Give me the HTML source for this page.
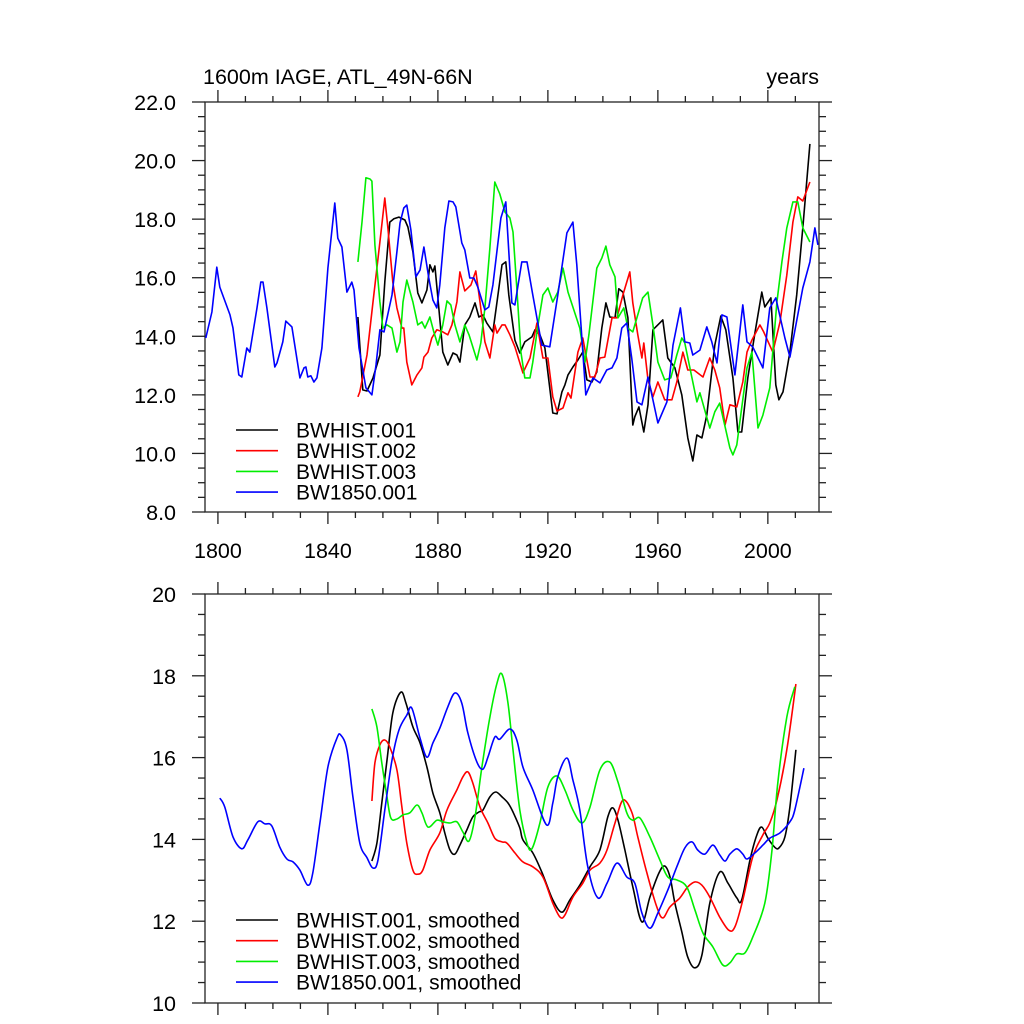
<!DOCTYPE html>
<html><head><meta charset="utf-8"><style>
html,body{margin:0;padding:0;background:#fff;}
svg{display:block;font-family:"Liberation Sans",sans-serif;}
</style></head><body>
<svg id="chart" width="1024" height="1024" viewBox="0 0 1024 1024">
<text x="203" y="84" font-size="21.5">1600m IAGE, ATL_49N-66N</text>
<text x="819" y="84" font-size="21.5" text-anchor="end">years</text>
</svg>
<script>
const xTicksMajor=[1800,1840,1880,1920,1960,2000];
const topYTicks=[8,10,12,14,16,18,20,22];
const botYTicks=[10,12,14,16,18,20];
const topLegend=["BWHIST.001","BWHIST.002","BWHIST.003","BW1850.001"];
const botLegend=["BWHIST.001, smoothed","BWHIST.002, smoothed","BWHIST.003, smoothed","BW1850.001, smoothed"];
const colors=["#000000","#ff0000","#00ee00","#0000ff"];

const t1Y=[1850.9,1852.7,1854.2,1856.4,1858.9,1860.7,1862.5,1864.0,1865.8,1868.0,1869.1,1870.9,1872.7,1874.2,1876.0,1877.1,1878.2,1878.9,1880.0,1881.8,1883.6,1885.5,1886.9,1888.0,1889.8,1891.6,1893.5,1894.9,1896.4,1897.8,1900.0,1901.5,1903.3,1904.7,1905.8,1908.0,1909.8,1911.6,1914.2,1915.3,1917.1,1918.9,1921.8,1923.3,1925.1,1926.2,1927.3,1929.1,1930.9,1932.7,1934.2,1936.0,1937.8,1939.6,1941.1,1942.5,1944.4,1945.8,1947.3,1949.1,1950.9,1951.6,1953.1,1954.9,1956.4,1958.2,1961.8,1963.6,1966.2,1968.7,1970.9,1972.7,1974.2,1976.0,1977.8,1980.7,1982.9,1984.7,1987.3,1989.1,1990.5,1992.7,1995.3,1997.8,1998.9,2001.1,2002.9,2004.0,2005.5,2008.0,2010.5,2012.7,2015.3];
const t1V=[14.66,12.17,12.13,12.58,13.36,15.85,17.90,18.01,18.07,17.97,17.73,16.88,15.48,15.14,15.58,16.44,16.20,16.40,15.31,13.46,13.02,13.43,13.36,13.12,14.39,14.66,15.14,14.66,14.73,14.45,14.15,15.17,16.44,16.54,15.41,13.87,13.43,13.81,13.98,14.22,14.05,13.60,11.38,11.35,12.10,12.34,12.68,12.95,13.19,13.46,12.51,12.44,12.78,14.28,15.14,14.66,14.63,15.62,15.51,14.63,10.97,11.25,11.59,10.73,11.66,14.22,14.56,13.26,12.92,12.00,10.53,9.74,10.63,10.53,11.31,13.70,14.69,14.22,12.58,10.73,10.73,12.58,14.11,15.51,15.00,15.31,12.34,11.83,12.10,13.46,15.41,17.70,20.57];
const t2Y=[1850.9,1851.6,1854.2,1856.4,1858.9,1860.7,1861.8,1863.6,1865.1,1866.9,1867.6,1868.7,1870.5,1872.4,1874.2,1874.9,1876.4,1877.8,1879.6,1881.8,1883.6,1885.1,1886.9,1888.0,1889.8,1892.0,1893.8,1895.3,1897.1,1898.9,1900.7,1901.5,1903.3,1904.4,1906.2,1908.0,1910.9,1913.5,1916.0,1918.2,1920.0,1921.8,1923.3,1925.5,1927.3,1928.4,1930.9,1932.7,1935.3,1937.1,1938.9,1940.7,1943.3,1945.1,1947.3,1949.8,1950.9,1952.7,1954.2,1954.9,1956.4,1958.2,1960.0,1962.5,1965.1,1966.9,1969.1,1970.9,1973.1,1976.4,1978.9,1980.7,1982.5,1984.4,1986.2,1988.7,1990.9,1992.4,1994.2,1997.1,1998.5,2001.8,2004.4,2006.9,2009.1,2010.9,2012.7,2015.3];
const t2V=[11.93,12.10,13.36,15.17,17.22,18.72,17.70,15.85,14.97,14.28,14.28,13.12,12.34,12.68,12.92,13.29,13.46,13.94,14.22,14.15,14.05,14.39,15.17,16.20,15.55,15.75,16.23,15.17,13.81,13.26,14.39,14.11,14.39,14.39,14.05,13.64,12.75,13.26,14.45,13.26,13.26,11.93,11.45,11.55,12.07,11.89,13.46,13.94,12.61,12.61,13.26,13.29,14.63,14.63,15.41,16.20,15.14,14.05,13.26,13.77,12.51,11.93,12.44,11.83,11.83,12.44,13.46,12.85,12.85,12.61,13.26,12.85,12.24,10.97,11.66,11.59,12.44,13.46,13.87,14.39,14.15,13.46,14.49,16.09,17.90,18.76,18.62,19.27];
const t3Y=[1850.9,1852.4,1853.8,1855.3,1856.0,1857.1,1858.9,1860.0,1861.5,1863.3,1865.1,1866.2,1867.3,1868.7,1870.9,1872.7,1874.2,1875.3,1877.1,1878.5,1880.0,1881.8,1883.3,1884.7,1886.2,1888.0,1889.8,1891.3,1894.2,1895.6,1897.1,1898.9,1900.7,1902.5,1904.4,1906.2,1907.3,1908.7,1910.2,1911.6,1913.5,1914.5,1916.4,1918.2,1920.0,1921.8,1923.6,1925.5,1927.3,1929.8,1931.6,1933.5,1934.9,1937.8,1939.6,1941.1,1942.5,1944.4,1945.5,1947.6,1949.1,1950.9,1954.5,1956.4,1958.2,1960.0,1962.5,1964.7,1966.9,1968.7,1969.8,1974.2,1975.3,1978.9,1980.7,1982.5,1986.2,1987.3,1988.7,1992.4,1994.2,1996.4,1998.2,2000.7,2003.3,2005.1,2006.9,2009.1,2010.9,2012.7,2015.3];
const t3V=[16.54,17.90,19.41,19.37,19.30,17.12,15.17,14.28,14.39,14.28,13.46,13.81,15.17,15.92,15.17,14.39,14.49,14.28,14.66,14.15,13.70,14.39,15.21,15.07,14.39,13.81,14.39,14.05,13.19,13.77,14.97,17.02,19.27,18.86,18.24,18.04,17.56,15.65,13.46,12.58,12.58,13.12,14.39,15.41,15.65,15.17,15.51,16.33,15.51,14.80,14.28,13.12,14.05,16.33,16.67,17.08,16.44,16.03,14.63,14.97,14.28,14.15,15.31,15.51,14.39,13.12,12.51,12.58,13.36,13.94,13.77,11.76,12.07,10.87,11.42,11.72,10.19,9.95,10.29,12.92,13.46,10.87,11.31,12.24,15.17,16.54,17.70,18.59,18.59,17.70,17.22];
const t4Y=[1795.6,1797.8,1799.6,1800.7,1804.4,1805.5,1807.6,1808.7,1810.5,1811.6,1814.2,1815.6,1816.4,1817.8,1820.7,1821.5,1823.6,1824.7,1826.9,1829.8,1831.3,1832.0,1832.7,1833.8,1834.9,1836.0,1837.8,1840.0,1842.5,1843.6,1845.1,1846.9,1848.7,1849.5,1851.3,1853.8,1856.0,1857.5,1858.9,1860.4,1863.3,1865.1,1866.2,1867.6,1868.7,1870.2,1872.0,1873.5,1874.9,1876.7,1878.2,1879.6,1880.7,1882.5,1884.0,1885.5,1886.5,1888.7,1889.8,1891.6,1893.1,1894.5,1897.1,1898.5,1900.0,1902.9,1904.7,1906.9,1908.0,1910.5,1912.4,1914.5,1917.8,1920.7,1923.6,1926.9,1929.1,1930.5,1933.8,1936.4,1938.9,1941.4,1943.3,1945.1,1946.9,1948.7,1950.5,1952.4,1954.2,1956.4,1960.0,1963.3,1965.5,1968.2,1969.8,1971.6,1972.7,1975.3,1977.8,1979.6,1981.5,1983.3,1985.1,1988.0,1990.9,1992.4,1994.5,1998.2,2000.7,2002.9,2006.2,2008.0,2012.7,2015.3,2017.1,2018.2];
const t4V=[13.94,14.83,16.36,15.68,14.73,14.28,12.68,12.61,13.60,13.46,14.97,15.85,15.85,14.97,12.95,13.09,13.81,14.52,14.32,12.58,12.92,12.95,12.61,12.65,12.44,12.58,13.60,16.33,18.55,17.35,17.05,15.51,15.85,15.58,13.60,12.24,12.00,13.02,14.22,14.15,15.41,16.88,17.87,18.38,18.48,17.63,16.03,16.26,17.05,15.99,15.24,14.97,15.75,17.70,18.62,18.59,18.42,17.19,16.95,15.99,15.99,15.68,14.90,15.00,15.75,18.04,18.59,15.14,15.07,16.54,16.54,15.41,13.70,13.64,15.41,17.53,17.90,16.44,12.00,12.58,12.41,12.85,12.92,13.26,14.28,14.45,13.26,11.76,11.66,12.61,11.04,11.76,13.70,14.97,13.81,13.77,13.36,13.53,14.32,13.81,13.09,14.73,14.66,12.68,15.07,13.81,13.64,12.92,14.97,15.31,13.94,13.29,15.65,16.54,17.70,17.12];

const s1Y=[1856.0,1857.8,1859.6,1861.5,1863.6,1866.5,1868.4,1870.9,1873.5,1876.0,1878.2,1880.7,1882.5,1884.4,1886.2,1888.0,1890.5,1892.7,1894.9,1896.4,1898.9,1901.1,1903.3,1905.5,1907.3,1909.8,1910.9,1914.5,1917.8,1921.8,1925.1,1928.0,1931.6,1935.3,1938.9,1941.8,1943.6,1945.5,1948.0,1950.9,1954.2,1957.1,1960.4,1962.5,1964.4,1966.2,1968.7,1970.9,1973.5,1976.0,1978.9,1982.5,1985.5,1988.7,1990.5,1993.5,1996.0,1997.8,2000.0,2002.5,2004.0,2006.2,2008.0,2010.2];
const s1V=[13.47,13.91,14.89,15.94,17.09,17.60,17.33,16.75,16.36,15.77,15.13,14.65,14.16,13.74,13.64,13.86,14.23,14.55,14.67,14.72,15.04,15.16,15.04,14.89,14.67,14.28,13.99,13.67,13.20,12.52,12.22,12.52,12.88,13.33,13.74,14.55,14.77,14.47,13.74,12.84,11.98,12.59,13.18,13.35,13.08,12.44,11.74,11.12,10.86,11.17,12.44,13.20,12.93,12.57,12.52,13.50,14.11,14.30,14.03,13.81,13.79,14.06,14.79,16.19];
const s2Y=[1856.0,1857.1,1858.9,1860.7,1862.5,1865.1,1866.9,1868.7,1870.9,1872.7,1874.5,1877.1,1880.7,1883.3,1886.9,1889.1,1890.9,1892.7,1895.3,1898.2,1900.7,1903.3,1905.1,1908.0,1910.9,1914.5,1918.2,1921.8,1924.4,1926.2,1929.1,1932.7,1935.3,1938.9,1941.5,1944.4,1947.3,1950.5,1952.7,1956.0,1959.6,1961.8,1964.4,1968.0,1970.9,1973.5,1976.0,1978.9,1982.5,1985.8,1988.0,1990.9,1994.5,1998.2,2000.7,2003.3,2006.9,2010.2];
const s2V=[14.94,15.87,16.31,16.43,16.26,15.70,14.79,13.91,13.25,13.15,13.25,13.74,14.16,14.72,15.21,15.53,15.65,15.38,14.79,14.40,14.03,13.94,13.91,13.67,13.45,13.33,13.08,12.44,12.10,12.15,12.59,12.93,13.25,13.42,13.74,14.40,14.96,14.67,14.06,13.18,12.35,12.08,12.35,12.57,12.84,12.96,12.88,12.59,12.10,11.78,11.86,12.52,13.57,14.11,14.40,14.96,16.19,17.80];
const s3Y=[1856.0,1857.8,1859.6,1861.5,1862.9,1865.1,1867.3,1869.8,1872.4,1874.2,1876.4,1879.6,1881.8,1884.4,1886.9,1889.1,1891.3,1893.5,1896.0,1898.9,1901.5,1903.3,1905.5,1907.3,1909.8,1912.4,1914.2,1917.1,1920.0,1923.3,1926.2,1929.1,1932.4,1935.3,1938.9,1942.5,1945.5,1948.7,1950.9,1953.5,1957.1,1960.7,1963.6,1966.9,1970.5,1973.5,1976.4,1980.0,1983.6,1986.2,1988.7,1991.6,1994.5,1998.9,2001.5,2003.6,2006.9,2009.8];
const s3V=[17.19,16.75,15.87,15.04,14.52,14.50,14.60,14.65,14.84,14.65,14.30,14.47,14.43,14.40,14.43,14.18,13.96,14.55,15.77,16.99,17.82,18.04,17.33,16.19,14.72,13.91,13.77,14.40,15.28,15.55,15.21,14.72,14.40,14.79,15.70,15.89,15.40,14.65,14.47,14.52,14.06,13.50,13.08,13.01,12.84,12.27,11.71,11.37,10.93,10.98,11.20,11.22,11.61,12.44,13.74,15.38,16.99,17.73];
const s4Y=[1800.7,1802.5,1805.5,1808.7,1810.9,1814.5,1817.1,1819.6,1822.5,1825.1,1827.3,1829.8,1832.7,1834.5,1837.1,1840.0,1843.3,1844.7,1846.9,1849.1,1851.6,1854.2,1856.4,1858.2,1860.7,1863.3,1865.8,1868.7,1870.5,1873.5,1876.0,1878.2,1880.7,1883.6,1886.2,1888.7,1890.9,1894.2,1896.4,1898.2,1900.7,1902.5,1906.2,1908.7,1910.9,1914.5,1919.6,1921.8,1923.6,1926.9,1929.1,1931.6,1934.5,1938.2,1941.5,1945.1,1948.7,1951.6,1954.2,1957.1,1960.0,1963.6,1966.9,1969.8,1972.4,1974.5,1977.1,1980.0,1982.5,1984.4,1986.2,1988.7,1990.9,1992.4,1995.3,1998.2,2000.7,2004.4,2008.0,2009.8,2013.1];
const s4V=[15.01,14.79,14.06,13.77,13.99,14.43,14.38,14.33,13.81,13.52,13.45,13.25,12.88,13.18,14.40,15.77,16.48,16.55,16.19,15.04,13.91,13.55,13.30,13.50,14.72,15.94,16.67,17.04,17.21,16.48,16.01,16.36,16.72,17.24,17.58,17.33,16.60,15.89,15.72,16.01,16.50,16.45,16.70,16.43,15.77,15.21,14.35,14.89,15.53,15.99,15.45,14.72,13.33,12.57,12.93,13.42,13.08,12.93,12.20,11.83,12.20,12.76,13.33,13.79,13.94,13.74,13.64,13.86,13.62,13.47,13.64,13.77,13.64,13.52,13.67,13.86,14.03,14.16,14.43,14.72,15.74];

const svg=document.getElementById('chart');
const NS='http://www.w3.org/2000/svg';
const X0=205,X1=819,YR0=1795.3,YR1=2018.6;
function xs(v){return X0+(v-YR0)/(YR1-YR0)*(X1-X0);}
function mk(tag,attrs,parent){const e=document.createElementNS(NS,tag);for(const k in attrs)e.setAttribute(k,attrs[k]);(parent||svg).appendChild(e);return e;}

function panel(name,top,bot,ymin,ymax,yTicks,fmt,xLabels,series,legend,legY){
  const g=mk('g',{});
  
  
  const ys=v=>bot-(v-ymin)/(ymax-ymin)*(bot-top);
  const ax=mk('g',{stroke:'#222','stroke-width':'1.3',fill:'none'},g);
  
  
  mk('rect',{x:X0,y:top,width:X1-X0,height:bot-top},ax);
  for(let y=1800;y<=2010;y+=10){
    const maj=(y-1800)%40===0,L=maj?12:6,x=xs(y);
    mk('line',{x1:x,y1:bot,x2:x,y2:bot+L},ax);
    mk('line',{x1:x,y1:top,x2:x,y2:top-L},ax);
  }
  for(let v=ymin;v<=ymax+1e-6;v+=0.5){
    const maj=Math.abs(v/2-Math.round(v/2))<1e-6,L=maj?13:7,y=ys(v);
    mk('line',{x1:X0,y1:y,x2:X0-L,y2:y},ax);
    mk('line',{x1:X1,y1:y,x2:X1+L,y2:y},ax);
  }
  yTicks.forEach(v=>{
    const t=mk('text',{x:176,y:ys(v)+8,'font-size':'21.5','text-anchor':'end'},g);
    
    
    t.textContent=fmt(v);
  });
  if(xLabels){xTicksMajor.forEach(v=>{
    const t=mk('text',{x:xs(v),y:bot+46,'font-size':'21.5','text-anchor':'middle'},g);
    
    
    t.textContent=v;
  });}
  series.forEach((s,i)=>{
    const pts=s[0].map((yr,j)=>[xs(yr),ys(s[1][j])]);
    let d='M'+pts[0][0].toFixed(1)+','+pts[0][1].toFixed(1);
    if(s[2]){
      for(let j=0;j<pts.length-1;j++){
        const p0=pts[Math.max(0,j-1)],p1=pts[j],p2=pts[j+1],p3=pts[Math.min(pts.length-1,j+2)];
        const c1=[p1[0]+(p2[0]-p0[0])/6,p1[1]+(p2[1]-p0[1])/6],c2=[p2[0]-(p3[0]-p1[0])/6,p2[1]-(p3[1]-p1[1])/6];
        d+='C'+c1.map(n=>n.toFixed(1))+' '+c2.map(n=>n.toFixed(1))+' '+p2.map(n=>n.toFixed(1));
      }
    } else {for(let j=1;j<pts.length;j++)d+='L'+pts[j][0].toFixed(1)+','+pts[j][1].toFixed(1);}
    const p=mk('path',{d:d,fill:'none',stroke:colors[i],'stroke-width':'1.6','stroke-linejoin':'round'},g);
    
    
  });
  legend.forEach((lab,i)=>{
    const y=legY+i*20.7;
    const lg=mk('g',{},g);
    
    
    mk('line',{x1:236,y1:y,x2:278,y2:y,stroke:colors[i],'stroke-width':'1.6'},lg);
    const t=mk('text',{x:296,y:y+7.5,'font-size':'21'},lg);
    t.textContent=lab;
  });
}
panel('top-panel',102,512,8,22,topYTicks,v=>v.toFixed(1),true,
  [[t1Y,t1V,false],[t2Y,t2V,false],[t3Y,t3V,false],[t4Y,t4V,false]],topLegend,430);
panel('bottom-panel',594,1003,10,20,botYTicks,v=>String(v),false,
  [[s1Y,s1V,true],[s2Y,s2V,true],[s3Y,s3V,true],[s4Y,s4V,true]],botLegend,920);
</script>
</body></html>
